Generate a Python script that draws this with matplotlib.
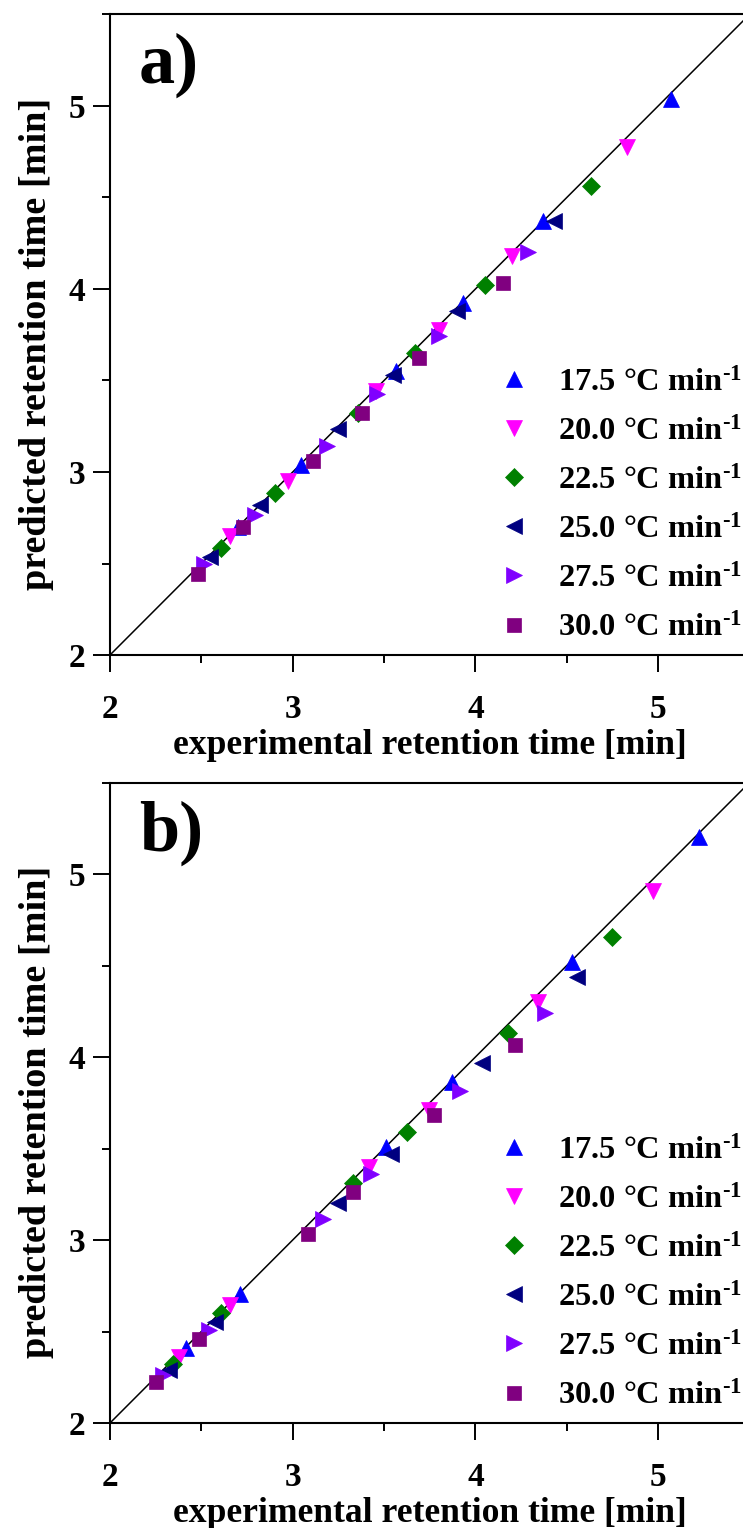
import matplotlib
matplotlib.use("Agg")
import matplotlib.pyplot as plt
from matplotlib.ticker import MultipleLocator

plt.rcParams['font.family'] = ['Liberation Serif', 'DejaVu Serif']
plt.rcParams['font.weight'] = 'bold'
plt.rcParams['mathtext.fontset'] = 'custom'
plt.rcParams['mathtext.rm'] = 'Liberation Serif:bold'
plt.rcParams['mathtext.bf'] = 'Liberation Serif:bold'
plt.rcParams['mathtext.it'] = 'Liberation Serif:bold'
plt.rcParams['mathtext.default'] = 'rm'

labels = ["17.5 °C min$^{\u2010 1}$", "20.0 °C min$^{\u2010 1}$", "22.5 °C min$^{\u2010 1}$",
          "25.0 °C min$^{\u2010 1}$", "27.5 °C min$^{\u2010 1}$", "30.0 °C min$^{\u2010 1}$"]
markers = ['^', 'v', 'D', '<', '>', 's']
colors = ['#0000FF', '#FF00FF', '#008000', '#000080', '#8000FF', '#800080']
msizes = [11.5, 11.5, 9.5, 11.5, 11.5, 9.5]

# panel a: experimental (x) and predicted (y) retention times per heating rate
a_x_175 = [5.07, 4.37, 3.93, 3.565, 3.045, 2.70]
a_y_175 = [5.04, 4.37, 3.925, 3.55, 3.04, 2.70]
a_x_200 = [4.83, 4.20, 3.80, 3.455, 2.975, 2.655]
a_y_200 = [4.775, 4.18, 3.775, 3.445, 2.95, 2.65]
a_x_225 = [4.63, 4.055, 3.67, 3.36, 2.905, 2.605]
a_y_225 = [4.565, 4.02, 3.65, 3.325, 2.885, 2.585]
a_x_250 = [4.43, 3.90, 3.55, 3.25, 2.82, 2.545]
a_y_250 = [4.37, 3.88, 3.53, 3.235, 2.82, 2.535]
a_x_275 = [4.285, 3.80, 3.46, 3.185, 2.795, 2.515]
a_y_275 = [4.20, 3.745, 3.425, 3.14, 2.765, 2.50]
a_x_300 = [4.15, 3.69, 3.38, 3.11, 2.73, 2.48]
a_y_300 = [4.035, 3.625, 3.325, 3.06, 2.70, 2.445]

# panel b
b_x_175 = [5.225, 4.53, 3.87, 3.51, 2.71, 2.415]
b_y_175 = [5.20, 4.52, 3.865, 3.51, 2.705, 2.41]
b_x_200 = [4.97, 4.34, 3.745, 3.415, 2.655, 2.38]
b_y_200 = [4.905, 4.30, 3.71, 3.40, 2.645, 2.36]
b_x_225 = [4.75, 4.18, 3.625, 3.33, 2.61, 2.345]
b_y_225 = [4.655, 4.13, 3.59, 3.31, 2.60, 2.325]
b_x_250 = [4.555, 4.035, 3.54, 3.25, 2.575, 2.325]
b_y_250 = [4.435, 3.965, 3.47, 3.20, 2.55, 2.29]
b_x_275 = [4.38, 3.915, 3.43, 3.165, 2.54, 2.29]
b_y_275 = [4.24, 3.815, 3.36, 3.115, 2.51, 2.26]
b_x_300 = [4.215, 3.775, 3.33, 3.085, 2.485, 2.25]
b_y_300 = [4.065, 3.685, 3.26, 3.035, 2.46, 2.225]

panel_a = [(a_x_175, a_y_175), (a_x_200, a_y_200), (a_x_225, a_y_225),
           (a_x_250, a_y_250), (a_x_275, a_y_275), (a_x_300, a_y_300)]
panel_b = [(b_x_175, b_y_175), (b_x_200, b_y_200), (b_x_225, b_y_225),
           (b_x_250, b_y_250), (b_x_275, b_y_275), (b_x_300, b_y_300)]

ticks = [2, 3, 4, 5]
lim = (2, 5.5)

W, H = 743, 1528
fig = plt.figure(figsize=(W / 100, H / 100), dpi=100)

def px_axes(left, top, right, bottom):
    return fig.add_axes([left / W, 1 - bottom / H, (right - left) / W, (bottom - top) / H])

ax_a = px_axes(110, 14.5, 749.5, 655)
ax_b = px_axes(110, 782.5, 749.5, 1423)

for ax, data, tag in [(ax_a, panel_a, 'a)'), (ax_b, panel_b, 'b)')]:
    ax.plot(lim, lim, color='black', lw=1.1, zorder=1)
    for (xs, ys), m, c, ms, lab in zip(data, markers, colors, msizes, labels):
        ax.plot(xs, ys, linestyle='none', marker=m, color=c, ms=ms,
                mec=c, mew=0.5, label=lab, zorder=3)
    ax.set_xlim(*lim)
    ax.set_ylim(*lim)
    ax.set_xticks(ticks)
    ax.set_yticks(ticks)
    ax.xaxis.set_minor_locator(MultipleLocator(0.5))
    ax.yaxis.set_minor_locator(MultipleLocator(0.5))
    ax.tick_params(which='major', direction='out', length=12, width=1.4,
                   labelsize=24, pad=16)
    ax.tick_params(axis='y', which='major', pad=6)
    ax.tick_params(which='minor', direction='out', length=6, width=1.4)
    ax.spines['right'].set_visible(False)
    for s in ['left', 'bottom', 'top']:
        ax.spines[s].set_linewidth(1.5)
    for lbl in ax.get_xticklabels() + ax.get_yticklabels():
        lbl.set_fontweight('bold')
    ax.set_xlabel('experimental retention time [min]', fontsize=25.6, fontweight='bold')
    ax.set_ylabel('predicted retention time [min]', fontsize=27.5, fontweight='bold')
    ax.xaxis.set_label_coords(0.5, -0.142)
    ax.xaxis.label.set_va('center')
    ax.yaxis.set_label_coords(-0.115, 0.486)
    ax.yaxis.label.set_va('center')
    ax.text(0.045, 0.972, tag, transform=ax.transAxes, fontsize=52,
            fontweight='bold', ha='left', va='top')
    leg = ax.legend(loc='upper left', bbox_to_anchor=(0.606, 0.449), frameon=False,
                    fontsize=23.4, handlelength=1.0, handletextpad=0.86,
                    labelspacing=0.595, borderpad=0, borderaxespad=0, numpoints=1)

fig.savefig('out.png', dpi=100)
